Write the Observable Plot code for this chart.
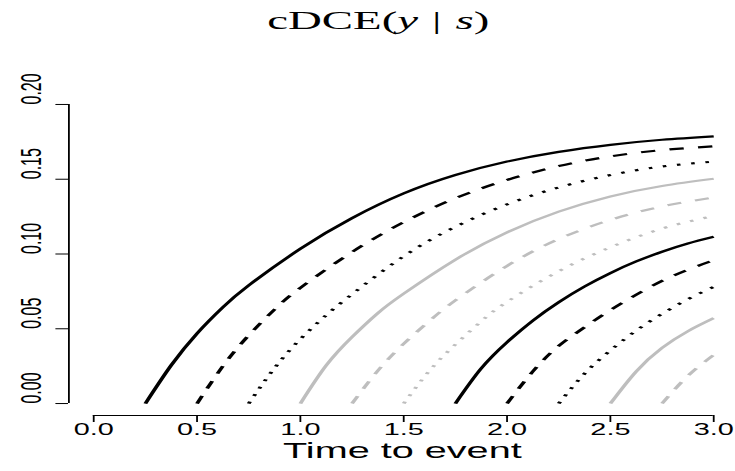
<!DOCTYPE html>
<html>
<head>
<meta charset="utf-8">
<script src="https://cdn.jsdelivr.net/npm/d3@7"></script>
<script src="https://cdn.jsdelivr.net/npm/@observablehq/plot@0.6"></script>
<style>
  html, body { margin: 0; padding: 0; background: #fff; overflow: hidden; }
  #stage {
    position: relative;
    width: 408px;
    height: 471px;
    transform: scaleX(1.8015);
    transform-origin: 0 0;
  }
  #title {
    position: absolute;
    left: 0;
    top: 8px;
    width: 420px;
    text-align: center;
    font-family: "Liberation Serif", serif;
    font-size: 26px;
    line-height: 1;
    color: #000;
  }
  #title .bar { margin: 0 0.3em; }
  #chart { position: absolute; left: 0; top: 0; }
</style>
</head>
<body>
<div id="stage">
  <div id="chart"></div>
  <div id="title">cDCE(<i>y</i><span class="bar">|</span><i>s</i>)</div>
</div>
<script>
// Conditional curves, one per starting time s: [time, cDCE value]
const s025 = [[0.25,0],[0.375,0.0256],[0.5,0.0469],[0.625,0.0644],[0.75,0.079],[1.0,0.1035],[1.25,0.124],[1.5,0.1405],[1.75,0.1528],[2.0,0.1618],[2.25,0.1683],[2.5,0.173],[2.75,0.1764],[3.0,0.1787]];
const s050 = [[0.5,0],[0.625,0.025],[0.75,0.0456],[0.875,0.0629],[1.0,0.0774],[1.25,0.1013],[1.5,0.1213],[1.75,0.1373],[2.0,0.1495],[2.25,0.1588],[2.5,0.1653],[2.75,0.1695],[3.0,0.172]];
const s075 = [[0.75,0],[0.875,0.02375],[1.0,0.0431],[1.125,0.0591],[1.25,0.0731],[1.5,0.0985],[1.75,0.1182],[2.0,0.1332],[2.25,0.1445],[2.5,0.1528],[2.75,0.1585],[3.0,0.1618]];
const s100 = [[1.0,0],[1.125,0.0255],[1.25,0.0445],[1.375,0.0605],[1.5,0.0735],[1.75,0.0962],[2.0,0.1145],[2.25,0.1283],[2.5,0.1385],[2.75,0.1455],[3.0,0.1503]];
const s125 = [[1.25,0],[1.375,0.022],[1.5,0.040],[1.625,0.0553],[1.75,0.069],[2.0,0.092],[2.25,0.110],[2.5,0.1228],[2.75,0.1318],[3.0,0.1378]];
const s150 = [[1.5,0],[1.625,0.022],[1.75,0.0395],[1.875,0.055],[2.0,0.068],[2.25,0.0885],[2.5,0.1045],[2.75,0.117],[3.0,0.1255]];
const s175 = [[1.75,0],[1.875,0.0235],[2.0,0.041],[2.125,0.0555],[2.25,0.06775],[2.375,0.07825],[2.5,0.08725],[2.625,0.095],[2.75,0.1015],[2.875,0.107],[3.0,0.1115]];
const s200 = [[2.0,0],[2.125,0.0215],[2.25,0.0385],[2.375,0.051],[2.5,0.0625],[2.75,0.082],[3.0,0.0958]];
const s225 = [[2.25,0],[2.375,0.020],[2.5,0.0355],[2.625,0.0488],[2.75,0.060],[2.875,0.0698],[3.0,0.078]];
const s250 = [[2.5,0],[2.625,0.0215],[2.75,0.0372],[2.875,0.0484],[3.0,0.0571]];
const s275 = [[2.75,0],[2.875,0.0185],[3.0,0.0325]];

const curves = [s025, s050, s075, s100, s125, s150, s175, s200, s225, s250, s275];

// Axis ticks
const xTicks = [0, 0.5, 1, 1.5, 2, 2.5, 3];
const yTicks = [0, 0.05, 0.1, 0.15, 0.2];

// Line styles cycle: solid, dashed, dotted; black then grey
const dashes = [null, "8 8", "2 6"];
const colors = ["#000000", "#bebebe"];

const lineMarks = curves.map((c, i) => Plot.line(c, {
  x: d => d[0],
  y: d => d[1],
  stroke: colors[Math.floor(i / 3) % 2],
  strokeWidth: 2.2,
  strokeDasharray: dashes[i % 3],
  strokeLinecap: "butt",
  curve: "natural"
}));

const chart = Plot.plot({
  width: 408,
  height: 471,
  marginLeft: 37.75,
  marginRight: 0,
  marginTop: 92,
  marginBottom: 56,
  x: {domain: [-0.12, 3.1074]},
  y: {domain: [-0.008, 0.208]},
  style: {fontFamily: "'Liberation Sans', Arial, sans-serif", background: "transparent", color: "#000"},
  marks: [
    ...lineMarks,
    // axis lines spanning the tick range
    Plot.ruleY([-0.008], {x1: 0, x2: 3, stroke: "#000", strokeWidth: 1}),
    Plot.ruleX([-0.12], {y1: 0, y2: 0.2, stroke: "#000", strokeWidth: 1}),
    // tick marks
    Plot.axisX({ticks: xTicks, anchor: "bottom", tickSize: 7, fill: "none", label: null}),
    Plot.axisY({ticks: yTicks, anchor: "left", tickSize: 7, fill: "none", label: null}),
    // tick labels
    Plot.text(xTicks, {x: d => d, text: d => d.toFixed(1), frameAnchor: "bottom", dy: 19.5, fontSize: 16, fill: "#000"}),
    Plot.text(yTicks, {y: d => d, text: d => d.toFixed(2), frameAnchor: "left", dx: -20.5, rotate: -90, fontSize: 16, fill: "#000"}),
    // axis title
    Plot.text(["Time to event"], {text: d => d, frameAnchor: "bottom", dy: 42.5, fontSize: 22, fill: "#000"})
  ]
});

document.getElementById("chart").appendChild(chart);
</script>
</body>
</html>
